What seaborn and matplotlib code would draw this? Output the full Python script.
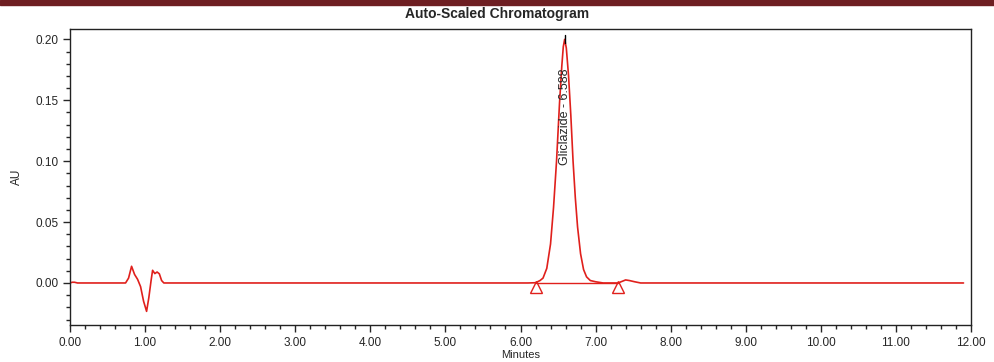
import numpy as np
import pandas as pd
import matplotlib
matplotlib.use("Agg")
import matplotlib.pyplot as plt
from matplotlib.ticker import MultipleLocator, FormatStrFormatter
from matplotlib.patches import Rectangle
import seaborn as sns

# chromatogram trace (minutes, AU)
times = [0.00, 0.03, 0.06, 0.10, 0.14, 0.74, 0.78, 0.82, 0.86, 0.90, 0.94, 0.98,
         1.02, 1.05, 1.08, 1.10, 1.13, 1.16, 1.19, 1.22, 1.25, 6.10, 6.20, 6.26,
         6.30, 6.35, 6.40, 6.44, 6.48, 6.52, 6.55, 6.57, 6.588, 6.61, 6.64, 6.67,
         6.70, 6.73, 6.76, 6.80, 6.84, 6.88, 6.93, 7.00, 7.10, 7.30, 7.36, 7.40,
         7.45, 7.52, 7.60, 11.90]
au = [0.0000, 0.0006, 0.0006, 0.0000, 0.0000, 0.0000, 0.0040, 0.0137, 0.0070,
      0.0030, -0.0030, -0.0150, -0.0233, -0.0120, 0.0020, 0.0104, 0.0077, 0.0090,
      0.0075, 0.0020, 0.0000, 0.0000, 0.0002, 0.0020, 0.0040, 0.0120, 0.0320,
      0.0620, 0.1000, 0.1480, 0.1780, 0.1940, 0.2000, 0.1930, 0.1700, 0.1380,
      0.1000, 0.0700, 0.0460, 0.0240, 0.0110, 0.0050, 0.0020, 0.0010, 0.0000,
      0.0000, 0.0015, 0.0025, 0.0020, 0.0010, 0.0000, 0.0000]

peak_name = "Gliclazide"
peak_rt = 6.588
peak_start, peak_end = 6.20, 7.30

df = pd.DataFrame({"Minutes": times, "AU": au})

sns.set_style("ticks")
plt.rcParams['font.family'] = ['Liberation Sans', 'DejaVu Sans']

fig = plt.figure(figsize=(9.94, 3.62), dpi=100)
ax = fig.add_axes([70/994, 1 - 325/362, 901/994, (325 - 29)/362])

# dark band along the top of the page
fig.patches.append(Rectangle((0, 1 - 5/362), 1, 5/362, transform=fig.transFigure,
                             color="#6e1e22", zorder=10))

sns.lineplot(data=df, x="Minutes", y="AU", ax=ax, color="#e0201c", lw=1.2,
             estimator=None, sort=False)

# baseline and peak markers
ax.plot([peak_start, peak_end], [0, 0], color="#e0201c", lw=1.0)
ax.plot([peak_start, peak_end], [-0.0035, -0.0035], ls="none", marker="^",
        ms=8, mfc="none", mec="#e0201c", mew=1.0)
ax.plot([peak_rt, peak_rt], [0.197, 0.2035], color="black", lw=1.0)
ax.text(peak_rt + 0.01, 0.097, f"{peak_name} - {peak_rt:.3f}", rotation=90,
        ha="center", va="bottom", fontsize=9)

ax.set_xlim(0, 12)
ax.set_ylim(-0.0345, 0.2085)
ax.xaxis.set_major_locator(MultipleLocator(1))
ax.xaxis.set_minor_locator(MultipleLocator(0.2))
ax.yaxis.set_major_locator(MultipleLocator(0.05))
ax.yaxis.set_minor_locator(MultipleLocator(0.01))
ax.xaxis.set_major_formatter(FormatStrFormatter("%.2f"))
ax.yaxis.set_major_formatter(FormatStrFormatter("%.2f"))
ax.tick_params(which="major", length=5, width=1, labelsize=8.5, direction="out")
ax.tick_params(which="minor", length=3, width=1, direction="out")
for s in ax.spines.values():
    s.set_visible(True)
    s.set_linewidth(1.0)
    s.set_color("#222222")

ax.set_xlabel("Minutes", fontsize=8, labelpad=1)
ax.set_ylabel("AU", fontsize=8.5, labelpad=9)
fig.text(0.5, 1 - 14/362, "Auto-Scaled Chromatogram", ha="center", va="center",
         fontsize=10, fontweight="bold")

fig.savefig("out.png", dpi=100)
